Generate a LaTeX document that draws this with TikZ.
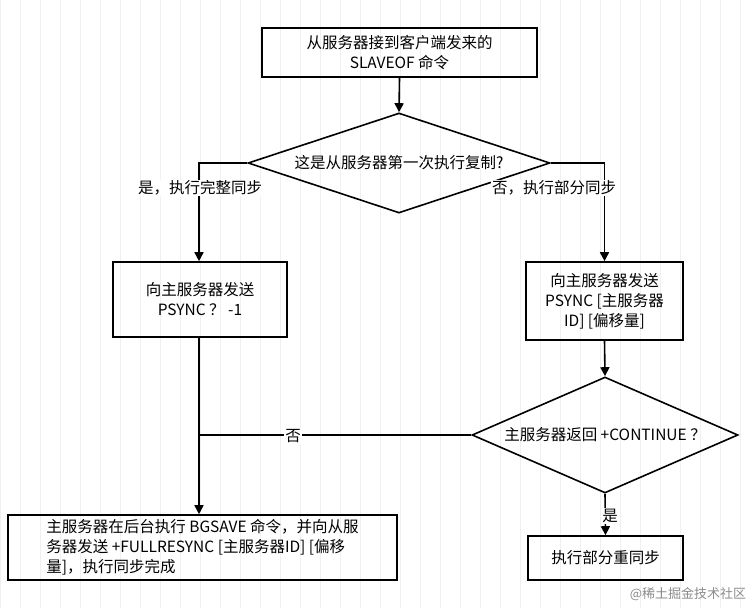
\documentclass[tikz,border=0pt]{standalone}
\usepackage{fontspec}
\setmainfont{Noto Sans CJK SC}
\usetikzlibrary{shapes.geometric,arrows.meta}
\begin{document}
\begin{tikzpicture}[x=1pt,y=-1pt,
  box/.style={draw,line width=1.6pt,align=center,font=\fontsize{15.5}{20}\selectfont,inner sep=0pt},
  dia/.style={draw,line width=1.6pt,diamond,aspect=2.5,inner sep=0pt,font=\fontsize{15.5}{20}\selectfont},
  arr/.style={line width=1.6pt,-{Triangle[length=9pt,width=9pt]}},
  ln/.style={line width=1.6pt},
  lab/.style={font=\fontsize{15.5}{20}\selectfont,fill=white,inner sep=1pt}]
\useasboundingbox (0,0) rectangle (754,608);
\fill[white] (0,0) rectangle (754,608);
\draw[black!6,line width=0.5pt,step=20] (0,0) grid (754,608);
\node[box,minimum width=275pt,minimum height=49pt] (top) at (399.5,52.5) {从服务器接到客户端发来的\\SLAVEOF 命令};
\node[dia,minimum width=302pt,minimum height=100pt] (d1) at (399,163) {这是从服务器第一次执行复制?};
\node[box,minimum width=174pt,minimum height=75pt] (lb) at (200,299.5) {向主服务器发送\\PSYNC ？ -1};
\node[box,minimum width=157pt,minimum height=78pt] (rb) at (604.5,301) {向主服务器发送\\PSYNC [主服务器\\ID] [偏移量]};
\node[dia,minimum width=266pt,minimum height=116pt] (d2) at (605,435) {主服务器返回 +CONTINUE ？};
\node[box,minimum width=389pt,minimum height=65pt,align=left] (bl) at (202.5,547.5) {主服务器在后台执行 BGSAVE 命令，并向从服\\务器发送 +FULLRESYNC [主服务器ID] [偏移\\量]，执行同步完成};
\node[box,minimum width=155pt,minimum height=44pt] (br) at (605.5,558) {执行部分重同步};
\coordinate (j) at (199,435);
\draw[arr] (top.south) -- (d1.north);
\draw[arr] (d1.west) -| (lb.north -| j);
\draw[arr] (d1.east) -| (rb.north);
\draw[arr] (rb.south) -- (d2.north);
\draw[ln] (d2.west) -- (j);
\draw[arr] (lb.south -| j) -- (bl.north -| j);
\draw[arr] (d2.south) -- (br.north);
\node[lab] at (200,188) {是，执行完整同步};
\node[lab] at (554,188) {否，执行部分同步};
\node[lab] at (293,436) {否};
\node[lab] at (610,516) {是};
\node[font=\fontsize{13}{15}\selectfont,text=black!45] at (688,594) {@稀土掘金技术社区};
\end{tikzpicture}
\end{document}
